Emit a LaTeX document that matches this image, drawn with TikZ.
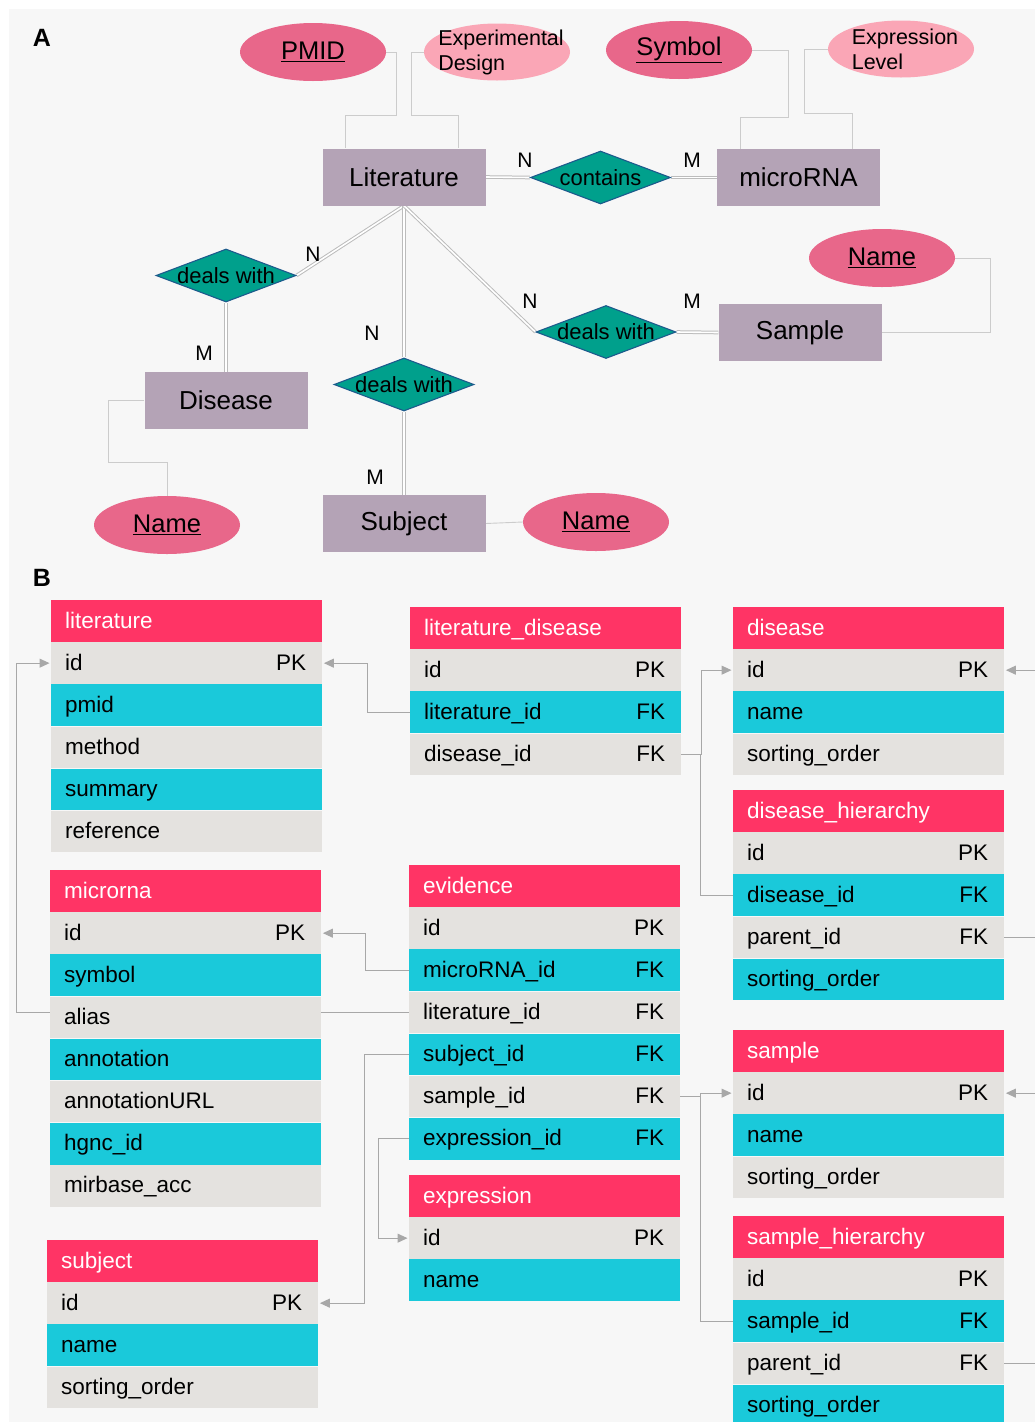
\documentclass[tikz,border=0pt]{standalone}
\usepackage{fontspec}
\setmainfont{Liberation Sans}
\usepackage{tikz}
\usetikzlibrary{arrows.meta,positioning,calc,shapes.geometric}
\usepackage{xcolor}
\definecolor{pagegray}{RGB}{247,247,247}
\definecolor{entitygray}{RGB}{180,163,182}
\definecolor{relgreen}{RGB}{0,160,140}
\definecolor{reledge}{RGB}{28,90,140}
\definecolor{darkpink}{RGB}{232,103,138}
\definecolor{lightpink}{RGB}{250,166,182}
\definecolor{wiregray}{RGB}{204,204,204}
\definecolor{dblgray}{RGB}{188,188,188}
\definecolor{hdrred}{RGB}{255,52,101}
\definecolor{rowgray}{RGB}{228,226,223}
\definecolor{rowcyan}{RGB}{26,201,218}
\definecolor{arrowgray}{RGB}{168,168,168}
\pgfdeclarelayer{paper}
\pgfdeclarelayer{wires}
\pgfsetlayers{paper,wires,main}
\newcommand{\tabfont}{\fontsize{22.5}{26}\selectfont}

\begin{document}
\begin{tikzpicture}[x=1pt,y=-1pt, >=Latex]
  \tikzstyle{entity}=[rectangle, fill=entitygray, minimum width=163pt, minimum height=57pt, font=\fontsize{26}{30}\selectfont]
  \tikzstyle{rel}=[diamond, draw=reledge, line width=1.1pt, fill=relgreen, minimum width=140pt, minimum height=53pt, inner sep=0pt]
  \tikzstyle{rlbl}=[font=\fontsize{22}{24}\selectfont, inner sep=0pt]
  \tikzstyle{keyattr}=[ellipse, fill=darkpink, minimum width=146pt, minimum height=58pt, inner sep=0pt, font=\fontsize{25.5}{28}\selectfont]
  \tikzstyle{attr}=[ellipse, fill=lightpink, minimum width=146pt, minimum height=57pt, inner sep=0pt]
  \tikzstyle{albl}=[align=left, font=\fontsize{21.5}{25}\selectfont, inner sep=0pt, xshift=4pt]
  \tikzstyle{card}=[font=\fontsize{21}{24}\selectfont, inner sep=0pt]
  \tikzstyle{panel}=[font=\bfseries\fontsize{25}{28}\selectfont, inner sep=0pt]
  \tikzstyle{dbl}=[draw=dblgray, double=white, double distance=1.6pt, line width=1pt]
  \tikzstyle{attrline}=[draw=wiregray, line width=0.9pt]
  \tikzstyle{row}=[rectangle, minimum width=271pt, minimum height=41.7pt, text width=243pt, inner xsep=14pt, inner ysep=0pt, align=left, text height=18pt, text depth=4pt, font=\tabfont]
  \tikzstyle{hdr}=[row, fill=hdrred, text=white, anchor=north west]
  \tikzstyle{gr}=[row, fill=rowgray]
  \tikzstyle{cy}=[row, fill=rowcyan]
  \tikzstyle{keylbl}=[font=\tabfont, inner sep=0pt, anchor=east, xshift=-16pt, text height=18pt, text depth=4pt]
  \tikzstyle{pk}=[label={[keylbl]east:PK}]
  \tikzstyle{fk}=[label={[keylbl]east:FK}]
  \tikzstyle{link}=[draw=arrowgray, line width=1pt, -{Triangle[length=10pt,width=9pt]}, shorten >=1.5pt]

  \useasboundingbox (0,0) rectangle (1035,1422);
  \begin{pgfonlayer}{paper}
    \fill[white] (0,0) rectangle (1035,1422);
    \fill[pagegray] (9,9) rectangle (1035,1422);
  \end{pgfonlayer}

  % A: entity relationship model
  \node[panel] (labA) at (42,38) {A};
  \node[keyattr] (pmid) at (313,52) {\underline{PMID}};
  \node[attr, label={[albl]center:Experimental\\Design}] (expdesign) at (497,52) {};
  \node[keyattr] (symbol) at (679,50) {\underline{Symbol}};
  \node[attr, label={[albl]center:Expression\\Level}] (exprlevel) at (901,49) {};

  \node[entity] (literature) at (404,177) {Literature};
  \node[rel, label={[rlbl]center:contains}] (contains) at (600.5,177.5) {};
  \node[entity] (microrna) at (798.5,177.5) {microRNA};
  \node[card] (n1) at (525,160) {N};
  \node[card] (m1) at (692,160) {M};

  \node[rel, label={[rlbl]center:deals with}] (dealsdis) at (226,275.5) {};
  \node[entity] (disease) at (226,400.5) {Disease};
  \node[keyattr] (disname) at (167,525) {\underline{Name}};
  \node[card] (n2) at (313,254) {N};
  \node[card] (m2) at (204,353) {M};

  \node[rel, label={[rlbl]center:deals with}] (dealssub) at (404,384.5) {};
  \node[entity] (subject) at (404,523.5) {Subject};
  \node[keyattr] (subname) at (596,522) {\underline{Name}};
  \node[card] (n3) at (372,333) {N};
  \node[card] (m3) at (375,477) {M};

  \node[rel, label={[rlbl]center:deals with}] (dealssam) at (606,332) {};
  \node[entity] (sample) at (800,332.5) {Sample};
  \node[keyattr] (samname) at (882,258) {\underline{Name}};
  \node[card] (n4) at (530,301) {N};
  \node[card] (m4) at (692,301) {M};

  % B: database tables
  \node[panel] (labB) at (42,578) {B};

  \node[hdr] (lit-h) at (51,600) {literature};
  \node[gr, pk, below=0pt of lit-h] (lit-id) {id};
  \node[cy, below=0pt of lit-id] (lit-pmid) {pmid};
  \node[gr, below=0pt of lit-pmid] (lit-method) {method};
  \node[cy, below=0pt of lit-method] (lit-sum) {summary};
  \node[gr, below=0pt of lit-sum] (lit-ref) {reference};

  \node[hdr] (ld-h) at (410,607) {literature\_disease};
  \node[gr, pk, below=0pt of ld-h] (ld-id) {id};
  \node[cy, fk, below=0pt of ld-id] (ld-lit) {literature\_id};
  \node[gr, fk, below=0pt of ld-lit] (ld-dis) {disease\_id};

  \node[hdr] (dis-h) at (733,607) {disease};
  \node[gr, pk, below=0pt of dis-h] (dis-id) {id};
  \node[cy, below=0pt of dis-id] (dis-name) {name};
  \node[gr, below=0pt of dis-name] (dis-sort) {sorting\_order};

  \node[hdr] (dh-h) at (733,790) {disease\_hierarchy};
  \node[gr, pk, below=0pt of dh-h] (dh-id) {id};
  \node[cy, fk, below=0pt of dh-id] (dh-dis) {disease\_id};
  \node[gr, fk, below=0pt of dh-dis] (dh-par) {parent\_id};
  \node[cy, below=0pt of dh-par] (dh-sort) {sorting\_order};

  \node[hdr] (mir-h) at (50,870) {microrna};
  \node[gr, pk, below=0pt of mir-h] (mir-id) {id};
  \node[cy, below=0pt of mir-id] (mir-sym) {symbol};
  \node[gr, below=0pt of mir-sym] (mir-alias) {alias};
  \node[cy, below=0pt of mir-alias] (mir-ann) {annotation};
  \node[gr, below=0pt of mir-ann] (mir-url) {annotationURL};
  \node[cy, below=0pt of mir-url] (mir-hgnc) {hgnc\_id};
  \node[gr, below=0pt of mir-hgnc] (mir-acc) {mirbase\_acc};

  \node[hdr] (ev-h) at (409,865) {evidence};
  \node[gr, pk, below=0pt of ev-h] (ev-id) {id};
  \node[cy, fk, below=0pt of ev-id] (ev-mir) {microRNA\_id};
  \node[gr, fk, below=0pt of ev-mir] (ev-lit) {literature\_id};
  \node[cy, fk, below=0pt of ev-lit] (ev-sub) {subject\_id};
  \node[gr, fk, below=0pt of ev-sub] (ev-sam) {sample\_id};
  \node[cy, fk, below=0pt of ev-sam] (ev-expr) {expression\_id};

  \node[hdr] (ex-h) at (409,1175) {expression};
  \node[gr, pk, below=0pt of ex-h] (ex-id) {id};
  \node[cy, below=0pt of ex-id] (ex-name) {name};

  \node[hdr] (sub-h) at (47,1240) {subject};
  \node[gr, pk, below=0pt of sub-h] (sub-id) {id};
  \node[cy, below=0pt of sub-id] (sub-name) {name};
  \node[gr, below=0pt of sub-name] (sub-sort) {sorting\_order};

  \node[hdr] (sam-h) at (733,1030) {sample};
  \node[gr, pk, below=0pt of sam-h] (sam-id) {id};
  \node[cy, below=0pt of sam-id] (sam-name) {name};
  \node[gr, below=0pt of sam-name] (sam-sort) {sorting\_order};

  \node[hdr] (sh-h) at (733,1216) {sample\_hierarchy};
  \node[gr, pk, below=0pt of sh-h] (sh-id) {id};
  \node[cy, fk, below=0pt of sh-id] (sh-sam) {sample\_id};
  \node[gr, fk, below=0pt of sh-sam] (sh-par) {parent\_id};
  \node[cy, below=0pt of sh-par] (sh-sort) {sorting\_order};

  \begin{pgfonlayer}{wires}
    % relationships
    \draw[dbl] (literature.east) -- (contains.west);
    \draw[dbl] (contains.east) -- (microrna.west);
    \draw[dbl] (literature.south) -- (dealsdis.east);
    \draw[dbl] (dealsdis.south) -- (disease.north);
    \draw[dbl] (literature.south) -- (dealssub.north);
    \draw[dbl] (dealssub.south) -- (subject.north);
    \draw[dbl] (literature.south) -- (dealssam.west);
    \draw[dbl] (dealssam.east) -- (sample.west);
    % attributes
    \draw[attrline] (pmid.east) -| ++(10,63) -| ($(literature.north west)+(23,0)$);
    \draw[attrline] (expdesign.west) -| ++(-12,63) -| ($(literature.north west)+(136,0)$);
    \draw[attrline] (symbol.east) -| ++(36,67) -| ($(microrna.north west)+(24,0)$);
    \draw[attrline] (exprlevel.west) -| ++(-23,64) -| ($(microrna.north west)+(136,0)$);
    \draw[attrline] (disease.west) -| ++(-36,62) -| (disname.north);
    \draw[attrline] (subject.east) -- (subname.west);
    \draw[attrline] (samname.east) -- ++(35,0) |- (sample.east);
    % foreign keys
    \draw[link] (ld-lit.west) -- ++(-43,0) |- (lit-id.east);
    \draw[link] (ld-dis.east) -- ++(20,0) |- (dis-id.west);
    \draw[link, -] (dh-dis.west) -- ++(-33,0) |- (ld-dis.east);
    \draw[link] (dh-par.east) -- ++(45,0) |- (dis-id.east);
    \draw[link] (ev-mir.west) -- ++(-44,0) |- (mir-id.east);
    \draw[link] (ev-lit.west) -- ++(-393,0) |- (lit-id.west);
    \draw[link] (ev-sub.west) -- ++(-45,0) |- (sub-id.east);
    \draw[link] (ev-expr.west) -- ++(-31,0) |- (ex-id.west);
    \draw[link] (ev-sam.east) -- ++(20,0) |- (sam-id.west);
    \draw[link, -] (sh-sam.west) -- ++(-33,0) |- (ev-sam.east);
    \draw[link] (sh-par.east) -- ++(45,0) |- (sam-id.east);
  \end{pgfonlayer}
\end{tikzpicture}
\end{document}
